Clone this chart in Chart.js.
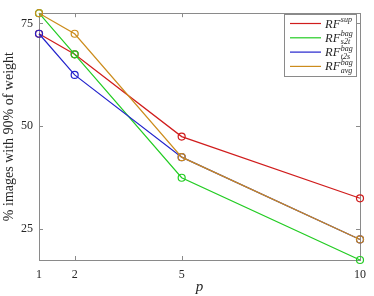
<!DOCTYPE html>
<html>
<head>
<meta charset="utf-8">
<script src="https://cdn.jsdelivr.net/npm/chart.js@4.4.1/dist/chart.umd.min.js"></script>
<style>
  html, body { margin: 0; padding: 0; background: #fff; }
  #wrap { width: 374px; height: 296px; }
</style>
</head>
<body>
<div id="wrap"><canvas id="lineChart"></canvas></div>
<script>
// values
const pValues = [1, 2, 5, 10];
const rfSup = [72.5, 67.5, 47.5, 32.5];
const rfS2t = [77.5, 67.5, 37.5, 17.5];
const rfT2s = [72.5, 62.5, 42.5, 22.5];
const rfAvg = [77.5, 72.5, 42.5, 22.5];
const xTicks = [1, 2, 5, 10];
const yTicks = [25, 50, 75];

const seriesColors = ['#d01c1c', '#22cc22', '#2222cc', '#cc8c1c'];
// legend labels: RF with superscript / subscript
const seriesSup = ['sup', 'bag', 'bag', 'bag'];
const seriesSub = ['', 's2t', 't2s', 'avg'];

const serif = '"Liberation Serif", "DejaVu Serif", serif';
const textColor = '#262626';
const axisColor = '#8a8a8a';

function makeSet(vals, i) {
    return {
        data: vals.map((v, k) => ({ x: pValues[k], y: v })),
        borderColor: seriesColors[i],
        borderWidth: 1.2,
        pointStyle: 'circle',
        pointRadius: 3.5,
        pointBorderWidth: 1.2,
        pointBackgroundColor: 'rgba(0,0,0,0)',
        pointBorderColor: seriesColors[i],
        tension: 0,
        clip: false,
        order: 3 - i   // later series drawn on top
    };
}

// box, inner ticks, axis titles and the legend
const matlabAxes = {
    id: 'matlabAxes',
    beforeDatasetsDraw(chart) {
        const { ctx, chartArea: a, scales } = chart;
        ctx.save();
        ctx.strokeStyle = axisColor;
        ctx.lineWidth = 1;
        ctx.strokeRect(Math.round(a.left) + 0.5, Math.round(a.top) + 0.5,
            Math.round(a.right - a.left), Math.round(a.bottom - a.top));
        ctx.beginPath();
        xTicks.forEach(v => {
            const x = Math.round(scales.x.getPixelForValue(v)) + 0.5;
            ctx.moveTo(x, a.bottom); ctx.lineTo(x, a.bottom - 4);
            ctx.moveTo(x, a.top); ctx.lineTo(x, a.top + 4);
        });
        yTicks.forEach(v => {
            const y = Math.round(scales.y.getPixelForValue(v)) + 0.5;
            ctx.moveTo(a.left, y); ctx.lineTo(a.left + 4, y);
            ctx.moveTo(a.right, y); ctx.lineTo(a.right - 4, y);
        });
        ctx.stroke();
        ctx.restore();
    },
    afterDraw(chart) {
        const { ctx, chartArea: a } = chart;
        ctx.save();
        ctx.fillStyle = textColor;
        // y title
        ctx.font = '14px ' + serif;
        ctx.textAlign = 'center';
        ctx.textBaseline = 'middle';
        ctx.translate(9, (a.top + a.bottom) / 2);
        ctx.rotate(-Math.PI / 2);
        ctx.fillText('% images with 90% of weight', 0, 0);
        ctx.restore();

        ctx.save();
        ctx.fillStyle = textColor;
        ctx.font = 'italic 15px ' + serif;
        ctx.textAlign = 'center';
        ctx.textBaseline = 'middle';
        ctx.fillText('p', (a.left + a.right) / 2, 287);

        // legend box
        const bx = 284, by = 14, bw = 72, bh = 62;
        ctx.fillStyle = '#fff';
        ctx.fillRect(bx, by, bw, bh);
        ctx.strokeStyle = axisColor;
        ctx.lineWidth = 1;
        ctx.strokeRect(bx + 0.5, by + 0.5, bw, bh);
        ctx.textAlign = 'left';
        ctx.textBaseline = 'alphabetic';
        seriesColors.forEach((c, i) => {
            const y = 23.5 + i * 14.3;
            ctx.strokeStyle = c;
            ctx.lineWidth = 1.2;
            ctx.beginPath();
            ctx.moveTo(290, y); ctx.lineTo(321, y);
            ctx.stroke();
            ctx.fillStyle = textColor;
            ctx.font = 'italic 12.5px ' + serif;
            ctx.fillText('RF', 325, y + 4);
            const w = ctx.measureText('RF').width;
            ctx.font = 'italic 8px ' + serif;
            ctx.fillText(seriesSup[i], 325 + w + 0.5, y - 1.5);
            if (seriesSub[i]) ctx.fillText(seriesSub[i], 325 + w + 0.5, y + 6.5);
        });
        ctx.restore();
    }
};

const ctx = document.getElementById('lineChart').getContext('2d');

const lineChart = new Chart(ctx, {
    type: 'line',
    data: {
        datasets: [rfSup, rfS2t, rfT2s, rfAvg].map(makeSet)
    },
    options: {
        responsive: true,
        maintainAspectRatio: false,
        animation: false,
        layout: { padding: { top: 4, right: 8, left: 0, bottom: 0 } },
        plugins: { legend: { display: false }, tooltip: { enabled: false } },
        scales: {
            x: {
                type: 'linear',
                min: 1, max: 10,
                afterBuildTicks: s => { s.ticks = xTicks.map(v => ({ value: v })); },
                afterFit: s => { s.height = 36; },
                grid: { display: false, drawTicks: false },
                border: { display: false },
                ticks: { padding: 8, color: textColor, font: { family: serif, size: 12 }, maxRotation: 0 }
            },
            y: {
                min: 17.5, max: 77.5,
                afterBuildTicks: s => { s.ticks = yTicks.map(v => ({ value: v })); },
                afterFit: s => { s.width = 39; },
                grid: { display: false, drawTicks: false },
                border: { display: false },
                ticks: { padding: 6, color: textColor, font: { family: serif, size: 12 } }
            }
        }
    },
    plugins: [matlabAxes]
});
</script>
</body>
</html>
